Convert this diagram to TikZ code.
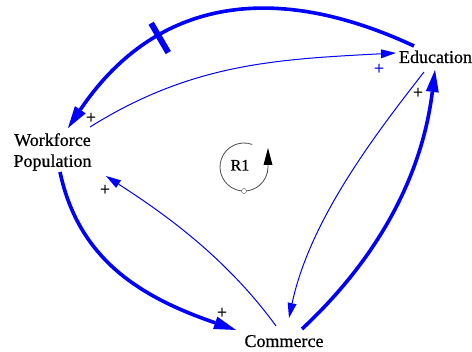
\documentclass[tikz,border=0pt]{standalone}
\usepackage{fontspec}
\setmainfont{Liberation Serif}
\newfontfamily\varfont[FakeBold=0.6]{Liberation Serif}
\usetikzlibrary{arrows.meta,calc}

\begin{document}
\begin{tikzpicture}[x=1pt, y=1pt, var/.style={inner sep=0pt, align=center, font=\varfont\fontsize{18}{21}\selectfont},
    pol/.style={inner sep=0pt, font=\varfont\fontsize{18}{18}\selectfont},
    link/.style={draw=blue, line width=3.6pt, -{Triangle[length=22pt,width=13pt,line width=0pt]}},
    info/.style={draw=blue, line width=1pt, -{Triangle[length=15pt,width=9pt,line width=0pt]}},
    delay/.style={fill=blue, inner sep=0pt, minimum width=6pt, minimum height=34pt, sloped},
    loopmark/.style={draw=black!70, line width=0.8pt, -{Triangle[length=17pt,width=9pt,line width=0pt,fill=black]}}]
    \useasboundingbox (0,0) rectangle (472,352);
    \node[var, anchor=base] (edu) at (435.5,289) {Education};
    \node[var] (wf) at (52.5,200) {Workforce\\Population};
    \node[var, anchor=base] (com) at (284,5) {Commerce};
    \node[anchor=base, font=\varfont\fontsize{16}{16}\selectfont, inner sep=0pt] (r1) at (240,181.5) {R1};
    \draw[link] ($(edu.base)+(-21.5,17)$) .. controls +(155:150) and +(56:160) .. ($(wf)+(15.5,24)$)
        node[pos=0.69, delay] (d1) {};
    \draw[info] ($(wf)+(37.5,25)$) .. controls +(32:120) and +(183:120) .. ($(edu.base)+(-39.5,10)$);
    \draw[info] ($(edu.base)+(-11.5,-9)$) .. controls +(232:80) and +(78:100) .. ($(com.base)+(5,29)$);
    \draw[link] ($(com.base)+(18,18)$) .. controls +(43:100) and +(263:110) .. ($(edu.base)+(-0.5,-7)$);
    \draw[link] ($(wf)+(7.5,-20)$) .. controls +(282:90) and +(161:100) .. ($(com.base)+(-48,17)$);
    \draw[info] ($(com.base)+(-8,21)$) .. controls +(126:90) and +(327:60) .. ($(wf)+(53.5,-24)$);
    \node[pol] (p1) at (91,234) {+};
    \node[pol, text=blue] (p2) at (379,283) {+};
    \node[pol] (p3) at (418,259) {+};
    \node[pol] (p4) at (105,162) {+};
    \node[pol] (p5) at (222,39) {+};
    \draw[loopmark] ($(r1.base)+(4,3.5)$) ++(70:24) arc[start angle=70, end angle=360, radius=24] -- ++(0,19);
    \draw[black!70, fill=white] ($(r1.base)+(4,-20.5)$) circle[radius=2.5];
  \end{tikzpicture}
\end{document}
